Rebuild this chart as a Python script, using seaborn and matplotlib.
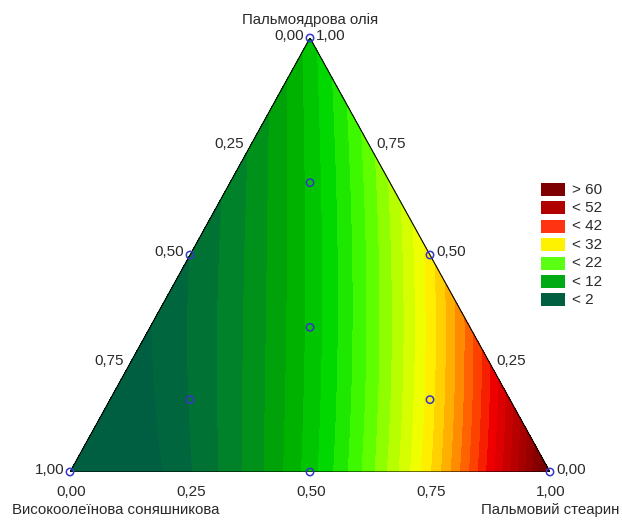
import numpy as np
import seaborn as sns
import matplotlib.pyplot as plt
import matplotlib.tri as mtri
from matplotlib.colors import LinearSegmentedColormap
from matplotlib.patches import Rectangle

# design points (simplex-centroid + axial): sunflower, palm olein, palm stearin
sunflower = [1.0, 0.0, 0.0, 0.5, 0.5, 0.0, 1/3, 2/3, 1/6, 1/6]
olein     = [0.0, 1.0, 0.0, 0.5, 0.0, 0.5, 1/3, 1/6, 2/3, 1/6]
stearin   = [0.0, 0.0, 1.0, 0.0, 0.5, 0.5, 1/3, 1/6, 1/6, 2/3]
response  = [-3.0, 15.0, 63.0, 4.0, 15.0, 33.0, 14.5, 4.1, 14.6, 33.0]

legend_labels = ['> 60', '< 52', '< 42', '< 32', '< 22', '< 12', '< 2']
legend_colors = ['#7f0000', '#b00000', '#ff3212', '#fff200', '#5aff14', '#00aa14', '#005f41']

tick_labels = ['0,00', '0,25', '0,50', '0,75', '1,00']

W, H = 622, 520


def fx(px):
    return px / W


def fy(py):
    return 1 - py / H


sns.set_theme(style='white')
plt.rcParams['font.family'] = ['Liberation Sans', 'DejaVu Sans']

# full cubic Scheffe model, fitted to the 10 design points
A, B, C = (np.array(v) for v in (sunflower, olein, stearin))


def terms(a, b, c):
    return np.column_stack([a, b, c, a*b, a*c, b*c, a*b*c,
                            a*b*(a - b), a*c*(a - c), b*c*(b - c)])


coef, *_ = np.linalg.lstsq(terms(A, B, C), np.array(response), rcond=None)

n = 160
pts = [(i / n, j / n) for i in range(n + 1) for j in range(n + 1 - i)]
gb = np.array([p[0] for p in pts])
gc = np.array([p[1] for p in pts])
ga = 1 - gb - gc
gz = terms(ga, gb, gc) @ coef
tri = mtri.Triangulation(gc + gb / 2, gb)

anchors = [(2, '#005f41'), (7, '#00822a'), (12, '#00aa00'), (17, '#00d800'),
           (22, '#4cff00'), (27, '#b8ff00'), (32, '#ffff00'), (37, '#ffb000'),
           (42, '#ff5000'), (47, '#f00000'), (52, '#c00000'), (62, '#700000')]
vmin, vmax = 2, 62
cmap = LinearSegmentedColormap.from_list(
    'mix', [((v - vmin) / (vmax - vmin), c) for v, c in anchors])
cmap.set_under('#005f41')
cmap.set_over('#700000')

fig = plt.figure(figsize=(W / 100, H / 100), dpi=100)
ax = fig.add_axes([fx(70), fy(472), 480 / W, 434 / H])
levels = np.arange(2, 64, 2)
ax.tricontourf(tri, gz, levels=levels, cmap=cmap, vmin=vmin, vmax=vmax, extend='both')
ax.plot([0, 0.5, 1, 0], [0, 1, 0, 0], color='black', lw=0.8)

sns.scatterplot(x=C + B / 2, y=B, ax=ax,
                marker='o', s=28, facecolor='none', edgecolor='#3535c8',
                linewidth=1.1, clip_on=False, zorder=5)
ax.set_xlim(0, 1)
ax.set_ylim(0, 1)
ax.axis('off')

fs = 11
tfs = 10.8
tc = '#2a2a2a'
# bottom axis (stearin)
for k, lab in enumerate(tick_labels):
    fig.text(fx(71 + 120 * k), fy(492), lab, ha='center', va='center', fontsize=fs, color=tc)
# left edge (sunflower), 1,00 at bottom vertex
for k, lab in enumerate(tick_labels):
    a = k * 0.25
    px = 70 + 240 * (1 - a)
    py = 472 - 434 * (1 - a)
    fig.text(fx(px - 6), fy(py - 2.5), lab, ha='right', va='center', fontsize=fs, color=tc)
# right edge (palm olein), 0,00 at right vertex
for k, lab in enumerate(tick_labels):
    b = k * 0.25
    px = 550 - 240 * b
    py = 472 - 434 * b
    fig.text(fx(px + 6), fy(py - 2.5), lab, ha='left', va='center', fontsize=fs, color=tc)

fig.text(fx(310), fy(20), 'Пальмоядрова олія', ha='center', va='center', fontsize=tfs, color=tc)
fig.text(fx(12), fy(510), 'Високоолеїнова соняшникова', ha='left', va='center', fontsize=tfs, color=tc)
fig.text(fx(619), fy(510), 'Пальмовий стеарин', ha='right', va='center', fontsize=tfs, color=tc)

for k, (lab, col) in enumerate(zip(legend_labels, legend_colors)):
    top = 183 + 18.4 * k
    fig.add_artist(Rectangle((fx(541), fy(top + 13)), 24 / W, 13 / H,
                             transform=fig.transFigure, facecolor=col, edgecolor='none'))
    fig.text(fx(572), fy(top + 6.5), lab, ha='left', va='center', fontsize=fs, color=tc)

fig.savefig('out.png', dpi=100)
